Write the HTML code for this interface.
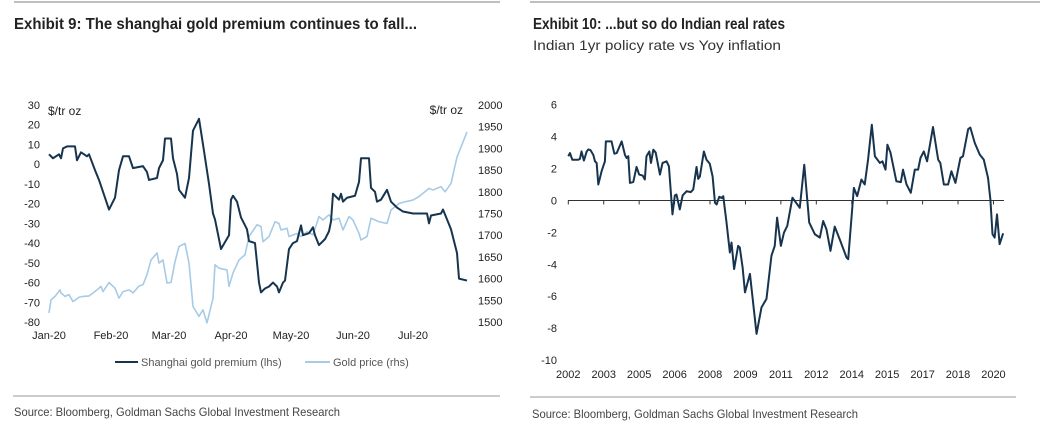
<!DOCTYPE html>
<html><head><meta charset="utf-8"><style>
html,body{margin:0;padding:0;background:#fff;width:1053px;height:425px;overflow:hidden}
svg{display:block;font-family:"Liberation Sans",Arial,sans-serif}
.t{font-family:"Liberation Sans Narrow","Liberation Sans",sans-serif;font-weight:bold;font-size:16px;fill:#222}
.ax{font-size:11px;fill:#222}
.src{font-family:"Liberation Sans Narrow","Liberation Sans",sans-serif;font-size:12px;fill:#444}
</style></head><body>
<svg id="s" width="1053" height="425" xmlns="http://www.w3.org/2000/svg">
<line x1="14" y1="2" x2="500" y2="2" stroke="#aaa" stroke-width="1.5"/>
<line x1="530" y1="2" x2="1040" y2="2" stroke="#aaa" stroke-width="1.5"/>
<text class="t" x="14" y="29" textLength="403" lengthAdjust="spacingAndGlyphs">Exhibit 9: The shanghai gold premium continues to fall...</text>
<text class="t" x="533" y="29" textLength="252" lengthAdjust="spacingAndGlyphs">Exhibit 10: ...but so do Indian real rates</text>
<text x="533" y="50" font-size="14" fill="#333" textLength="248" lengthAdjust="spacingAndGlyphs">Indian 1yr policy rate vs Yoy inflation</text>
<line x1="13" y1="396" x2="500" y2="396" stroke="#999"/>
<line x1="530" y1="397" x2="1016" y2="397" stroke="#999"/>
<text class="src" x="14" y="416" textLength="326" lengthAdjust="spacingAndGlyphs">Source: Bloomberg, Goldman Sachs Global Investment Research</text>
<text class="src" x="532" y="418" textLength="326" lengthAdjust="spacingAndGlyphs">Source: Bloomberg, Goldman Sachs Global Investment Research</text>
<g id="left"></g>
<g id="right"></g>
</svg>
<script>
// ---- Exhibit 9 data ----
const premDays=[0,2,5,6,7,9,13,14,16,19,20,23,25,28,30,33,35,37,40,42,47,49,50,54,55,57,58,61,62,64,65,68,70,72,75,77,80,82,83,86,90,91,92,94,96,98,99,100,103,105,106,108,110,112,114,115,117,118,120,122,124,126,127,130,132,133,135,138,140,141,142,145,146,147,149,153,155,156,160,161,163,164,166,169,171,174,177,182,189,190,191,196,197,199,201,204,205,209];
const premVals=[5,3,5,3,8,9,9,2,6,4,5,-3,-8,-17,-23,-17,-3,4,4,-2,-1,-4,-8,-7,-2,2,13,13,3,-5,-13,-17,-7,17,23,10,-10,-25,-28,-43,-36,-18,-16,-19,-27,-31,-33,-39,-40,-60,-65,-63,-62,-60,-62,-65,-60,-59,-43,-40,-39,-31,-36,-35,-32,-36,-41,-38,-34,-29,-15,-18,-15,-19,-17,-16,-9,3,3,-12,-14,-19,-18,-13,-19,-22,-24,-25,-25,-30,-26,-25,-23,-28,-33,-45,-58,-59];
const goldDays=[0,1,3,5.5,6,8,10,12,15,17,20,24,26,27,30,33,35,37,40,42,45,47,49,51,54,55,57,59,61,63,65,68,70,72,75,77,79,82,83,85,89,90,92,95,98,100,104,106,107,110,113,115,116,119,120,124,126,129,132,135,137,140,142,145,147,150,152,155,156,159,161,165,169,171,175,178,182,185,190,192,196,198,201,204,209];
const goldVals=[1521,1551,1559,1574,1567,1559,1563,1547,1557,1559,1560,1574,1582,1570,1591,1578,1555,1570,1574,1567,1583,1586,1609,1643,1659,1636,1643,1590,1591,1639,1674,1681,1636,1536,1513,1528,1498,1555,1632,1624,1620,1582,1613,1643,1655,1697,1724,1720,1685,1697,1731,1727,1712,1716,1697,1704,1697,1708,1701,1743,1735,1747,1735,1739,1712,1743,1735,1704,1689,1697,1739,1731,1727,1758,1773,1777,1781,1789,1808,1804,1812,1800,1819,1880,1938];
const lTicks=[30,20,10,0,-10,-20,-30,-40,-50,-60,-70,-80];
const rTicks=[2000,1950,1900,1850,1800,1750,1700,1650,1600,1550,1500];
const monthLabels=["Jan-20","Feb-20","Mar-20","Apr-20","May-20","Jun-20","Jul-20"];
const monthDays=[0,31,60,91,121,152,182];
// ---- Exhibit 10 data ----
const rateYears=[0,.07,.17,.42,.49,.56,.66,.78,.85,.94,1.06,1.13,1.2,1.27,1.41,1.55,1.59,1.83,1.95,2.05,2.26,2.4,2.47,2.54,2.61,2.75,2.89,3,3.15,3.24,3.31,3.43,3.5,3.6,3.7,3.88,3.99,4.16,4.26,4.41,4.51,4.58,4.72,4.84,5.01,5.18,5.29,5.43,5.5,5.57,5.74,5.85,5.99,6.11,6.21,6.28,6.39,6.49,6.56,6.7,6.84,6.91,7.02,7.19,7.26,7.38,7.48,7.69,7.97,8.18,8.39,8.6,8.74,8.84,9,9.13,9.27,9.49,9.8,9.99,10.2,10.44,10.65,10.79,10.93,11.1,11.28,11.49,11.78,11.85,12.09,12.23,12.41,12.55,12.69,12.85,12.98,13.19,13.3,13.43,13.51,13.64,13.89,14.08,14.17,14.32,14.5,14.67,14.81,14.91,15.05,15.19,15.44,15.66,15.75,15.9,16.08,16.22,16.39,16.6,16.71,16.93,17.02,17.21,17.42,17.59,17.77,17.87,17.96,18.05,18.15,18.26,18.41];
const rateVals=[2.77,2.97,2.55,2.55,2.6,3.07,2.5,3.07,3.2,3.15,2.85,2.45,2.35,1.0,1.83,2.45,3.7,3.7,2.93,2.97,3.7,2.85,2.66,2.77,1.1,1.15,2.1,1.62,1.56,1.31,2.77,3.07,2.35,3.18,3.0,1.62,2.35,2.45,2.14,-0.87,0.31,0.37,-0.56,0.31,0.58,0.52,0.69,2.1,1.35,1.5,3.07,2.55,2.3,1.5,-0.15,-0.25,0.23,0.15,0.27,-1.4,-3.26,-2.64,-4.3,-2.85,-2.95,-4.2,-5.76,-4.6,-8.36,-6.7,-6.17,-3.47,-2.85,-1.08,-2.85,-2.02,-1.6,0.17,-0.46,2.24,-1.39,-2.12,-2.33,-1.29,-1.81,-3.16,-1.64,-2.43,-3.58,-3.68,0.79,0.27,1.31,1.0,2.55,4.74,2.77,2.35,2.45,1.93,3.49,3.0,1.2,1.15,1.93,1.0,0.48,1.93,1.93,2.66,3.07,2.45,4.6,2.55,2.35,1.0,1.0,1.83,1.1,2.66,2.77,4.47,4.57,3.6,2.87,2.56,1.41,0.06,-2.12,-2.33,-0.87,-2.74,-2.06];
const yrLabels=["2002","2003","2005","2006","2008","2009","2011","2012","2014","2015","2017","2018","2020"];
const yrPos=[0,1.5,3,4.5,6,7.5,9,10.5,12,13.5,15,16.5,18];
const r10Ticks=[6,4,2,0,-2,-4,-6,-8,-10];

const NS="http://www.w3.org/2000/svg";
function mk(p,tag,at,txt){const e=document.createElementNS(NS,tag);for(const k in at)e.setAttribute(k,at[k]);if(txt!==undefined)e.textContent=txt;p.appendChild(e);return e;}
// left scales
const xL=d=>49+d*2.0, yL=v=>105+(30-v)*217/110, yR=v=>105+(2000-v)*217/500;
const L=document.getElementById('left');
lTicks.forEach(v=>{const t=mk(L,'text',{x:40,y:yL(v)+4,'text-anchor':'end',class:'ax'},String(v));

});
rTicks.forEach(v=>{const t=mk(L,'text',{x:478,y:yR(v)+4,class:'ax'},String(v));

});
monthLabels.forEach((m,i)=>{const t=mk(L,'text',{x:xL(monthDays[i]),y:339,'text-anchor':'middle',class:'ax',
'font-size':'11'},m);

});
let u1=mk(L,'text',{x:48,y:115,'font-size':'12',fill:'#222'},'$/tr oz');


let u2=mk(L,'text',{x:463,y:114,'font-size':'12',fill:'#222','text-anchor':'end'},'$/tr oz');


let gp=mk(L,'polyline',{points:goldDays.map((d,i)=>xL(d)+','+yR(goldVals[i])).join(' '),fill:'none',stroke:'#a7cbe6','stroke-width':'1.6','stroke-linejoin':'round'});


let pp=mk(L,'polyline',{points:premDays.map((d,i)=>xL(d)+','+yL(premVals[i])).join(' '),fill:'none',stroke:'#17344f','stroke-width':'2','stroke-linejoin':'round'});


let lg1=mk(L,'line',{x1:115,y1:362,x2:138,y2:362,stroke:'#17344f','stroke-width':'2'});


let lt1=mk(L,'text',{x:141,y:366,'font-size':'11',fill:'#555'},'Shanghai gold premium (lhs)');


let lg2=mk(L,'line',{x1:305,y1:362,x2:330,y2:362,stroke:'#a7cbe6','stroke-width':'2'});


let lt2=mk(L,'text',{x:333,y:366,'font-size':'11',fill:'#555'},'Gold price (rhs)');


// right scales
const xR=y=>568.3+y*23.62, yQ=v=>104.7+(6-v)*255.3/16;
const R=document.getElementById('right');
r10Ticks.forEach(v=>{const t=mk(R,'text',{x:557,y:yQ(v)+4,'text-anchor':'end',class:'ax'},String(v));

});
let zl=mk(R,'line',{x1:568,y1:yQ(0),x2:1004,y2:yQ(0),stroke:'#333','stroke-width':'1'});


yrPos.forEach((p,i)=>{const tk=mk(R,'line',{x1:xR(p),y1:yQ(0),x2:xR(p),y2:yQ(0)+4,stroke:'#333'});


const t=mk(R,'text',{x:xR(p),y:378,'text-anchor':'middle',class:'ax'},yrLabels[i]);

});
let rl=mk(R,'polyline',{points:rateYears.map((y,i)=>xR(y)+','+yQ(rateVals[i])).join(' '),fill:'none',stroke:'#17344f','stroke-width':'2','stroke-linejoin':'round'});


</script>
</body></html>
